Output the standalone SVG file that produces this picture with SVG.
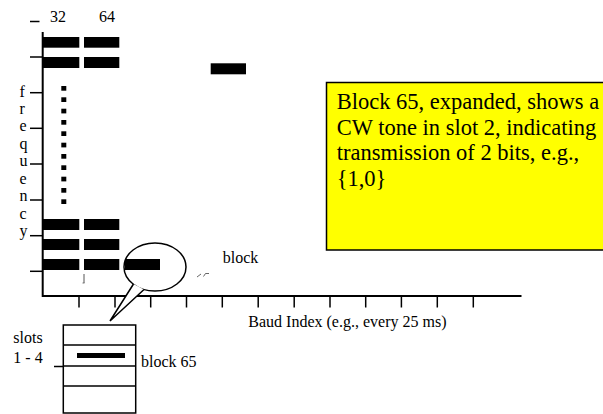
<svg xmlns="http://www.w3.org/2000/svg" width="603" height="414" viewBox="0 0 603 414">
<style>
text{font-family:"Liberation Serif","Times New Roman",serif;font-size:16px;fill:#000}
.ax{stroke:#000;stroke-width:2;fill:none}
.tk{stroke:#000;stroke-width:1.5;fill:none}
.bar{fill:#000}
.ln{stroke:#000;stroke-width:1.5;fill:none}
.nt{font-size:22.5px}
</style>
<rect width="603" height="414" fill="#fff"/>
<g id="axes">
<line class="ax" x1="42.7" y1="32" x2="42.7" y2="297"/>
<line class="ax" x1="42" y1="296" x2="521.5" y2="296"/>
<g id="y-ticks">
<line class="tk" x1="30" y1="21.5" x2="39.5" y2="21.5"/>
<line class="tk" x1="30" y1="57" x2="43" y2="57"/>
<line class="tk" x1="30" y1="92.7" x2="43" y2="92.7"/>
<line class="tk" x1="30" y1="128.3" x2="43" y2="128.3"/>
<line class="tk" x1="30" y1="164" x2="43" y2="164"/>
<line class="tk" x1="30" y1="200" x2="43" y2="200"/>
<line class="tk" x1="30" y1="235.7" x2="43" y2="235.7"/>
<line class="tk" x1="30" y1="271.3" x2="43" y2="271.3"/>
</g>
<g id="x-ticks">
<line class="tk" x1="79" y1="296" x2="79" y2="307.5"/>
<line class="tk" x1="115" y1="296" x2="115" y2="307.5"/>
<line class="tk" x1="150.7" y1="296" x2="150.7" y2="307.5"/>
<line class="tk" x1="186.5" y1="296" x2="186.5" y2="307.5"/>
<line class="tk" x1="222.3" y1="296" x2="222.3" y2="307.5"/>
<line class="tk" x1="258.2" y1="296" x2="258.2" y2="307.5"/>
<line class="tk" x1="294.2" y1="296" x2="294.2" y2="307.5"/>
<line class="tk" x1="330" y1="296" x2="330" y2="307.5"/>
<line class="tk" x1="365.7" y1="296" x2="365.7" y2="307.5"/>
<line class="tk" x1="401.4" y1="296" x2="401.4" y2="307.5"/>
<line class="tk" x1="437.3" y1="296" x2="437.3" y2="307.5"/>
<line class="tk" x1="473.3" y1="296" x2="473.3" y2="307.5"/>
</g>
</g>
<g id="labels">
<text x="50" y="21.7">32</text>
<text x="99" y="21.7">64</text>
<text x="19.5" y="96.5">f</text>
<text x="19.5" y="114">r</text>
<text x="19.5" y="131.4">e</text>
<text x="19.5" y="148.9">q</text>
<text x="19.5" y="166.3">u</text>
<text x="19.5" y="183.8">e</text>
<text x="19.5" y="201.2">n</text>
<text x="19.5" y="218.7">c</text>
<text x="19.5" y="236.1">y</text>
<text x="248.3" y="326.7">Baud Index (e.g., every 25 ms)</text>
<text x="222.7" y="263.3">block</text>
<text x="13.3" y="343">slots</text>
<text x="13.3" y="363.3">1 - 4</text>
<text x="141" y="367">block 65</text>
</g>
<g id="blocks">
<rect class="bar" x="43" y="37" width="36.3" height="10.7"/>
<rect class="bar" x="84" y="37" width="35.3" height="10.7"/>
<rect class="bar" x="43" y="57" width="36.3" height="11"/>
<rect class="bar" x="84" y="57" width="35.3" height="11"/>
<rect class="bar" x="210.7" y="63.3" width="35.3" height="11"/>
<rect class="bar" x="43" y="219" width="36.3" height="11"/>
<rect class="bar" x="84" y="219" width="35.3" height="11"/>
<rect class="bar" x="43" y="239" width="36.3" height="11"/>
<rect class="bar" x="84" y="239" width="35.3" height="11"/>
<rect class="bar" x="43" y="259" width="36.3" height="11"/>
<rect class="bar" x="84" y="259" width="35.3" height="11"/>
<rect class="bar" x="125" y="259" width="35" height="11"/>
</g>
<g id="dots">
<rect class="bar" x="61.3" y="86" width="5" height="4.7"/>
<rect class="bar" x="61.3" y="97.3" width="5" height="4.7"/>
<rect class="bar" x="61.3" y="108.7" width="5" height="4.7"/>
<rect class="bar" x="61.3" y="120" width="5" height="4.7"/>
<rect class="bar" x="61.3" y="131.3" width="5" height="4.7"/>
<rect class="bar" x="61.3" y="142.7" width="5" height="4.7"/>
<rect class="bar" x="61.3" y="154" width="5" height="4.7"/>
<rect class="bar" x="61.3" y="165.3" width="5" height="4.7"/>
<rect class="bar" x="61.3" y="176.7" width="5" height="4.7"/>
<rect class="bar" x="61.3" y="188" width="5" height="4.7"/>
<rect class="bar" x="61.3" y="199.3" width="5" height="4.7"/>
</g>
<g id="marks">
<line x1="84" y1="274" x2="84" y2="283" stroke="#555" stroke-width="1"/>
<line x1="82.5" y1="283" x2="84.5" y2="283" stroke="#555" stroke-width="0.8"/>
<path d="M197,277 L201,274 M203.5,276.5 L205.5,273.5 L209,273.5" stroke="#555" stroke-width="0.9" fill="none"/>
</g>
<g id="callout">
<ellipse class="ln" cx="155" cy="267" rx="31" ry="24"/>
<polygon points="110,321 133.5,284 144,289.5" fill="#fff"/>
<polyline class="ln" points="133.5,284 110,321 144,289.5"/>
</g>
<g id="block65">
<rect class="ln" x="63.3" y="325" width="72.4" height="88"/>
<line class="ln" x1="63.3" y1="345" x2="135.7" y2="345"/>
<line class="ln" x1="63.3" y1="366" x2="135.7" y2="366"/>
<line class="ln" x1="63.3" y1="386" x2="135.7" y2="386"/>
<rect class="bar" x="77" y="353" width="48" height="5"/>
<line class="tk" x1="54" y1="366.5" x2="63.3" y2="366.5"/>
</g>
<g id="note">
<rect x="326.5" y="82.5" width="300" height="167.5" fill="#ffff00" stroke="#000" stroke-width="1.5"/>
<text class="nt" x="336.7" y="109">Block 65, expanded, shows a</text>
<text class="nt" x="336.7" y="134.5">CW tone in slot 2, indicating</text>
<text class="nt" x="336.7" y="160">transmission of 2 bits, e.g.,</text>
<text class="nt" x="336.7" y="185.5">{1,0}</text>
</g>
</svg>
